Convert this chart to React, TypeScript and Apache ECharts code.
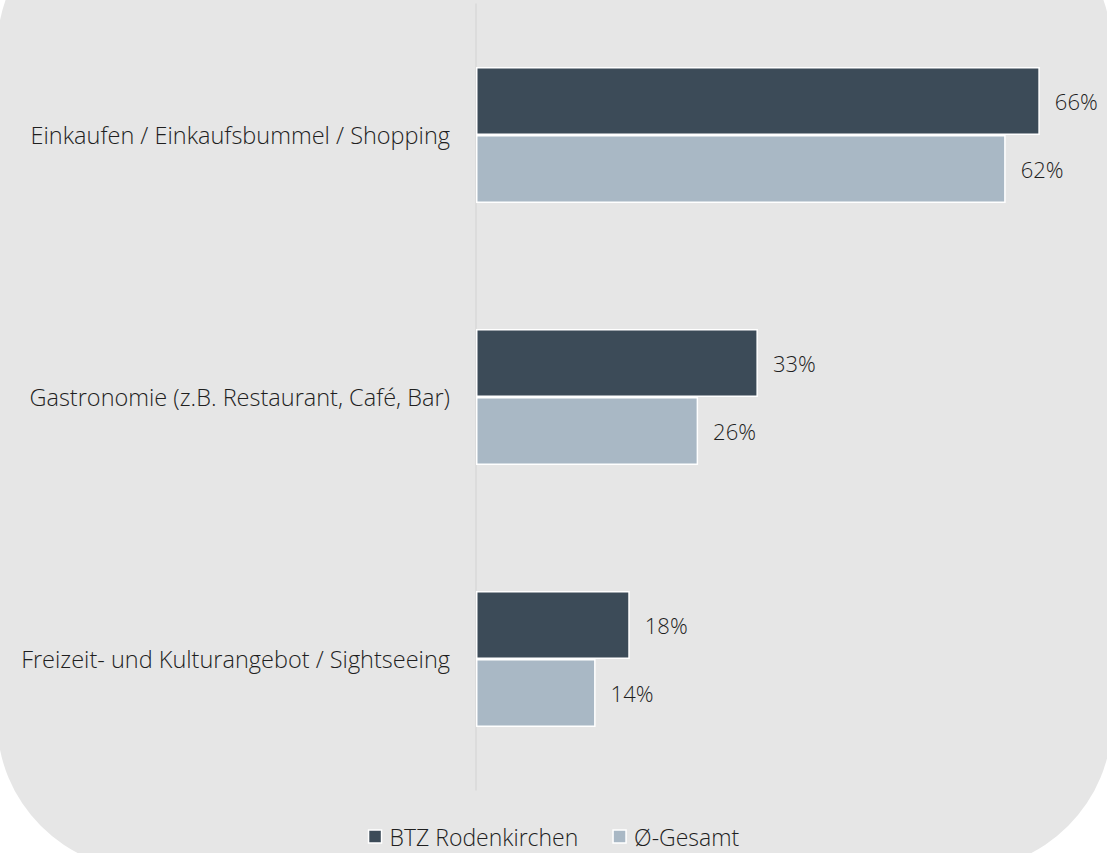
import React, { useEffect, useRef } from "react";
import * as echarts from "echarts";

const categories = [
  "Einkaufen / Einkaufsbummel / Shopping",
  "Gastronomie (z.B. Restaurant, Café, Bar)",
  "Freizeit- und Kulturangebot / Sightseeing",
];
const seriesNames = ["BTZ Rodenkirchen", "Ø-Gesamt"];
const btzValues = [66, 33, 18];
const gesamtValues = [62, 26, 14];

const FONT = "'Open Sans', 'Noto Sans', sans-serif";

export default function App() {
  const ref = useRef<HTMLDivElement>(null);
  useEffect(() => {
    document.body.style.margin = "0";
    document.body.style.background = "#ffffff";
    const chart = echarts.init(ref.current!, null, { renderer: "svg" });
    const labelStyle = {
      show: true,
      position: "right" as const,
      distance: 15,
      formatter: "{c}%",
      color: "#1f1f1f",
      fontFamily: FONT,
      fontWeight: 300 as any,
      fontSize: 22,
    };
    chart.setOption({
      animation: false,
      graphic: [
        {
          type: "rect",
          z: -10,
          silent: true,
          shape: { x: -3, y: -100, width: 1115, height: 970, r: 150 },
          style: { fill: "#e6e6e6" },
        },
      ],
      legend: {
        bottom: 0,
        left: "center",
        itemWidth: 13,
        itemHeight: 13,
        itemGap: 34,
        icon: "rect",
        textStyle: {
          color: "#1f1f1f",
          fontFamily: FONT,
          fontWeight: 300 as any,
          fontSize: 23,
          padding: [0, 0, 0, 3],
        },
        data: seriesNames.map((n) => ({ name: n, itemStyle: { borderColor: "#ffffff", borderWidth: 1.5 } })),
      },
      grid: { left: 476, width: 598, top: 4, height: 786 },
      xAxis: {
        type: "value",
        min: 0,
        max: 70,
        show: false,
      },
      yAxis: {
        type: "category",
        data: categories,
        inverse: true,
        axisLine: { show: true, lineStyle: { color: "#d9d9d9", width: 1.5 } },
        axisTick: { show: false },
        axisLabel: {
          margin: 26,
          color: "#1f1f1f",
          fontFamily: FONT,
          fontWeight: 300 as any,
          fontSize: 23.5,
        },
      },
      series: [
        {
          name: seriesNames[0],
          type: "bar",
          data: btzValues,
          barGap: "0%",
          barCategoryGap: "48%",
          itemStyle: { color: "#3c4b58", borderColor: "#ffffff", borderWidth: 1.5 },
          label: labelStyle,
        },
        {
          name: seriesNames[1],
          type: "bar",
          data: gesamtValues,
          barGap: "0%",
          barCategoryGap: "48%",
          itemStyle: { color: "#a9b8c5", borderColor: "#ffffff", borderWidth: 1.5 },
          label: labelStyle,
        },
      ],
    });
    return () => chart.dispose();
  }, []);
  return <div ref={ref} style={{ width: 1107, height: 853 }} />;
}
